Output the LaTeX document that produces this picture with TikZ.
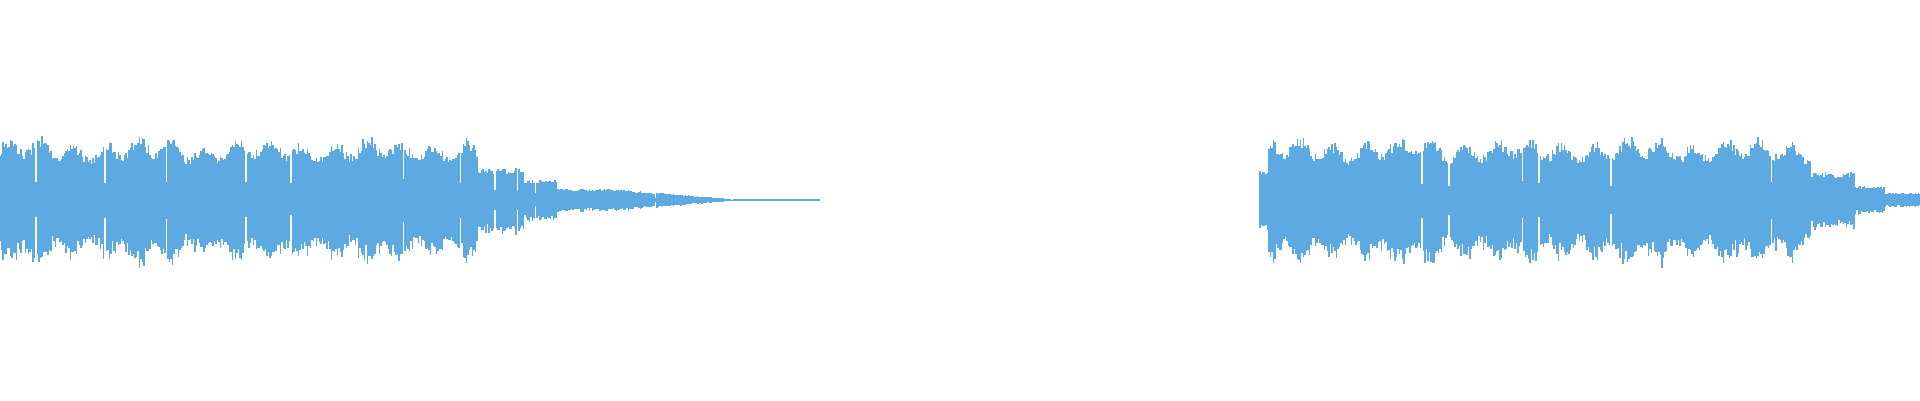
\documentclass[tikz,border=0pt]{standalone}
\definecolor{wave}{HTML}{5DA9E1}
\begin{document}
\begin{tikzpicture}[x=1pt,y=1pt,wv/.style={draw=wave,line width=1.7pt}]
\useasboundingbox (0,0) rectangle (1920,400);
\pgfmathsetseed{7}
\foreach \x in {0,1.5,...,820}{
 \pgfmathsetmacro\env{\x<478?64*(0.84+0.12*sin(\x*11)+0.06*sin(\x*3.1)):(\x<525?32:(\x<557?20:(\x<612?11:(\x<735?max(1.2,11-(\x-612)/12):1))))}
 \pgfmathsetmacro\r{rnd}
 \pgfmathsetmacro\a{\env*(0.8+0.2*rnd)*(\r<0.015?0.35:1)}
 \pgfmathsetmacro\b{\a*(0.88+0.24*rnd)}
 \draw[wv] (\x,200+\a) -- (\x,200-\b);
}
\foreach \x in {1260,1261.5,...,1920}{
 \pgfmathsetmacro\xx{\x-1260}
 \pgfmathsetmacro\env{\x<1268?30:(\x<1812?64*(0.84+0.12*sin(\xx*11)+0.06*sin(\xx*3.1)):(\x<1855?28:(\x<1885?14:7)))}
 \pgfmathsetmacro\r{rnd}
 \pgfmathsetmacro\a{\env*(0.8+0.2*rnd)*(\r<0.015?0.35:1)}
 \pgfmathsetmacro\b{\a*(0.88+0.24*rnd)}
 \draw[wv] (\x,200+\a) -- (\x,200-\b);
}
\end{tikzpicture}
\end{document}
